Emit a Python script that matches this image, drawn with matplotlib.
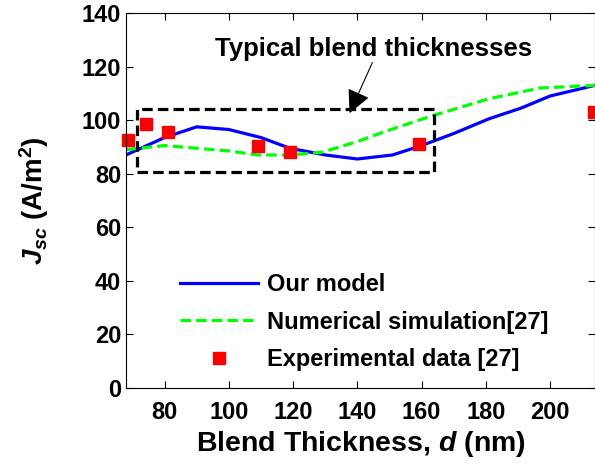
import matplotlib
matplotlib.use("Agg")
import matplotlib.pyplot as plt

plt.rcParams["font.family"] = ["Liberation Sans", "DejaVu Sans"]
plt.rcParams["font.weight"] = "bold"
plt.rcParams["mathtext.fontset"] = "custom"
plt.rcParams["mathtext.rm"] = "Liberation Sans:bold"
plt.rcParams["mathtext.it"] = "Liberation Sans:bold:italic"
plt.rcParams["mathtext.bf"] = "Liberation Sans:bold"

# our model (blue solid)
model_d = [68, 80, 90, 100, 110, 119, 130, 140, 151, 160, 170, 181, 191, 200, 214]
model_j = [87, 93.5, 97.5, 96.5, 93.5, 89.5, 87, 85.5, 87, 90.5, 95, 100.5, 104.5, 109, 113]

# numerical simulation [27] (green dashed)
sim_d = [68, 80, 90, 100, 109, 119, 129, 140, 148, 163, 181, 197, 214]
sim_j = [89, 90.5, 89.5, 88.5, 87, 87, 88, 92, 95.5, 101.5, 108, 112, 113]

# experimental data [27] (red squares)
exp_d = [68.7, 74.2, 81.1, 109, 119, 159.3, 213.7]
exp_j = [92.5, 98.5, 95.7, 90.5, 88, 91, 103]

# "typical blend thicknesses" box
box_d = [71.3, 164, 164, 71.3, 71.3]
box_j = [80.5, 80.5, 104, 104, 80.5]

fig = plt.figure(figsize=(5.95, 4.69), dpi=100)
ax = fig.add_axes([0.2118, 0.1727, 0.7882, 0.7996])

dash = (0, (3.3, 1.6))
ax.plot(model_d, model_j, color="#0000ff", lw=2.3, label="Our model")
ax.plot(sim_d, sim_j, color="#00ff00", lw=2.3, ls=dash,
        label="Numerical simulation[27]")
ax.plot(exp_d, exp_j, ls="none", marker="s", ms=8, color="#ff0000",
        clip_on=False, label="Experimental data [27]")
ax.plot(box_d, box_j, color="black", lw=2.3, ls=dash, clip_on=False)

ax.text(145, 126.7, "Typical blend thicknesses", ha="center", va="center",
        fontsize=18.5, fontweight="bold")
ax.annotate("", xy=(137.6, 102.6), xytext=(144.7, 121.5),
            arrowprops=dict(arrowstyle="-|>,head_length=0.8,head_width=0.4",
                            color="black", lw=0.8, shrinkA=0, shrinkB=0,
                            mutation_scale=18))

ax.set_xlim(68, 214)
ax.set_ylim(0, 140)
ax.set_xticks([80, 100, 120, 140, 160, 180, 200])
ax.set_yticks(range(0, 141, 20))
ax.tick_params(direction="in", top=True, right=True, labelsize=17, length=5)
ax.tick_params(axis="x", pad=9)
for lbl in ax.get_xticklabels() + ax.get_yticklabels():
    lbl.set_fontweight("bold")

ax.set_xlabel(r"Blend Thickness, $d$ (nm)", fontsize=20.5, fontweight="bold",
              labelpad=4)
ax.set_ylabel(r"$J_{sc}$ (A/m$^2$)", fontsize=20, fontweight="bold", labelpad=22)

leg = ax.legend(loc="lower left", bbox_to_anchor=(0.07, -0.012), frameon=False,
                fontsize=17, handlelength=3.3, handletextpad=0.4,
                labelspacing=0.62)
for t in leg.get_texts():
    t.set_fontweight("bold")

fig.savefig("out.png", dpi=100)
